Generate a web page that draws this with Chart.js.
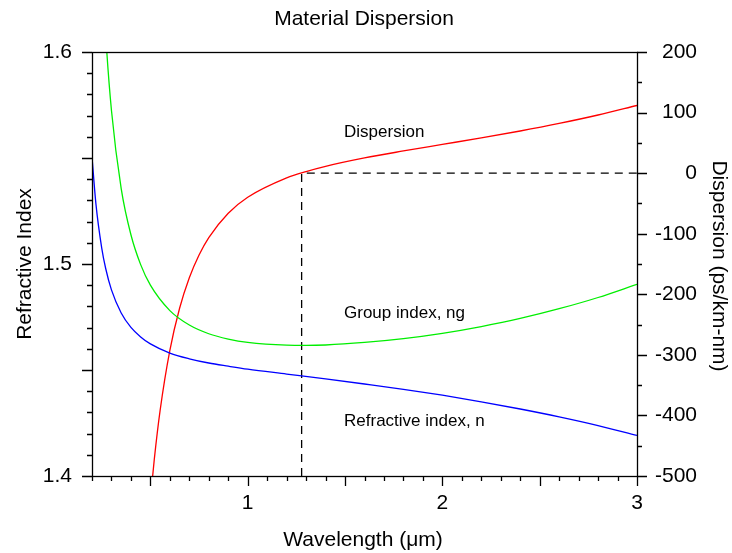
<!DOCTYPE html>
<html>
<head>
<meta charset="utf-8">
<script src="https://cdn.jsdelivr.net/npm/chart.js@4"></script>
<style>
html,body{margin:0;padding:0;background:#fff;}
#wrap{width:732px;height:553px;position:relative;}
</style>
</head>
<body>
<div id="wrap"><canvas id="c" width="732" height="553"></canvas></div>
<script>
// ---- data ----
const chartTitle = 'Material Dispersion';
const xTitle = 'Wavelength (\u03bcm)';
const yLeftTitle = 'Refractive Index';
const yRightTitle = 'Dispersion (ps/km-nm)';

const xTickLabels = ['1', '2', '3'];
const leftTickLabels = ['1.4', '1.5', '1.6'];
const rightTickLabels = ['-500', '-400', '-300', '-200', '-100', '0', '100', '200'];

// Refractive index, n
const nWavelength = [0.2, 0.22, 0.25, 0.27, 0.3, 0.35, 0.4, 0.45, 0.5, 0.6, 0.7, 0.8, 0.9, 1.0, 1.2, 1.4, 1.6, 1.8, 2.0, 2.2, 2.4, 2.6, 2.8, 3.0];
const nValues =     [1.5505, 1.5285, 1.5075, 1.4980, 1.4878, 1.4769, 1.4701, 1.4656, 1.4623, 1.4580, 1.4553, 1.4533, 1.4518, 1.4504, 1.4481, 1.4458, 1.4434, 1.4409, 1.4381, 1.4350, 1.4316, 1.4279, 1.4238, 1.4192];

// Group index, ng
const ngWavelength = [0.25, 0.27, 0.3, 0.35, 0.4, 0.45, 0.5, 0.6, 0.7, 0.8, 0.9, 1.0, 1.2, 1.3, 1.4, 1.6, 1.8, 2.0, 2.2, 2.4, 2.6, 2.8, 3.0];
const ngValues =     [1.6435, 1.6086, 1.5724, 1.5356, 1.5138, 1.4997, 1.4900, 1.4780, 1.4712, 1.4671, 1.4646, 1.4630, 1.4617, 1.4616, 1.4618, 1.4630, 1.4648, 1.4673, 1.4705, 1.4743, 1.4789, 1.4842, 1.4904];

// Dispersion (ps/km-nm)
const dWavelength = [0.5, 0.52, 0.55, 0.6, 0.65, 0.7, 0.75, 0.8, 0.9, 1.0, 1.2, 1.3, 1.4, 1.6, 1.8, 2.0, 2.2, 2.4, 2.6, 2.8, 3.0];
const dValues =     [-538.7, -472.5, -391.7, -292.6, -223.1, -172.7, -135.1, -106.4, -66.2, -39.9, -7.9, 2.65, 11.25, 25.1, 36.6, 47.4, 58.2, 69.6, 82.1, 96.0, 111.7];

// zero-dispersion marker
const zeroDispWavelength = 1.277;
const markerWavelength = [zeroDispWavelength, zeroDispWavelength, 3.0];
const markerDispersion = [-500, 0, 0];

// curve labels (wavelength, refractive-index axis value)
const curveLabels = ['Dispersion', 'Group index, ng', 'Refractive index, n'];
const curveLabelX = [1.5, 1.5, 1.5];
const curveLabelY = [1.5627, 1.4774, 1.4264];

// ---- chart ----
const FONT = "'Liberation Sans', Arial, Helvetica, sans-serif";
const toPts = (xs, ys) => xs.map((x, i) => ({x: x, y: ys[i]}));

const near = (v, t) => Math.abs(v - t) < 1e-6;

const decor = {
  id: 'decor',
  afterDraw(chart) {
    const ctx = chart.ctx;
    const a = chart.chartArea;
    const xs = chart.scales.x, yl = chart.scales.y, yr = chart.scales.y2;
    ctx.save();
    ctx.strokeStyle = '#000';
    ctx.lineWidth = 1.3;
    // frame
    ctx.strokeRect(Math.round(a.left) + 0.5, Math.round(a.top) + 0.5, Math.round(a.right - a.left), Math.round(a.bottom - a.top));
    ctx.beginPath();
    // x ticks
    xs.ticks.forEach(t => {
      const px = Math.round(xs.getPixelForValue(t.value)) + 0.5;
      const major = near(t.value * 2, Math.round(t.value * 2));
      ctx.moveTo(px, a.bottom); ctx.lineTo(px, a.bottom + (major ? 10 : 5));
    });
    // left ticks
    yl.ticks.forEach(t => {
      const py = Math.round(yl.getPixelForValue(t.value)) + 0.5;
      const major = near(t.value * 20, Math.round(t.value * 20));
      ctx.moveTo(a.left, py); ctx.lineTo(a.left - (major ? 10 : 5), py);
    });
    // right ticks
    yr.ticks.forEach(t => {
      const py = Math.round(yr.getPixelForValue(t.value)) + 0.5;
      const major = near(t.value / 100, Math.round(t.value / 100));
      ctx.moveTo(a.right, py); ctx.lineTo(a.right + (major ? 10 : 5), py);
    });
    ctx.stroke();

    ctx.fillStyle = '#000';
    // title
    ctx.font = '21px ' + FONT;
    ctx.textAlign = 'center';
    ctx.textBaseline = 'middle';
    ctx.fillText(chartTitle, (a.left + a.right) / 2 - 0.5, 19);
    // x title
    ctx.fillText(xTitle, (a.left + a.right) / 2 - 1.5, 540);
    // left title
    ctx.save();
    ctx.translate(25, (a.top + a.bottom) / 2);
    ctx.rotate(-Math.PI / 2);
    ctx.fillText(yLeftTitle, 0, 0);
    ctx.restore();
    // right title
    ctx.save();
    ctx.translate(719, (a.top + a.bottom) / 2 + 2);
    ctx.rotate(Math.PI / 2);
    ctx.fillText(yRightTitle, 0, 0);
    ctx.restore();
    // curve labels
    ctx.font = '17px ' + FONT;
    ctx.textAlign = 'left';
    curveLabels.forEach((s, i) => {
      ctx.fillText(s, xs.getPixelForValue(curveLabelX[i]) - 1, yl.getPixelForValue(curveLabelY[i]) + 1);
    });
    ctx.restore();
  }
};

const lineCommon = {pointRadius: 0, borderWidth: 1.3, fill: false, cubicInterpolationMode: 'monotone'};

new Chart(document.getElementById('c'), {
  type: 'line',
  data: {
    datasets: [
      Object.assign({label: 'Refractive index, n', data: toPts(nWavelength, nValues), borderColor: '#0000ff', yAxisID: 'y'}, lineCommon),
      Object.assign({label: 'Group index, ng', data: toPts(ngWavelength, ngValues), borderColor: '#00ee00', yAxisID: 'y'}, lineCommon),
      Object.assign({label: 'Dispersion', data: toPts(dWavelength, dValues), borderColor: '#ff0000', yAxisID: 'y2'}, lineCommon),
      {label: 'zero', data: toPts(markerWavelength, markerDispersion), borderColor: '#000', borderWidth: 1.3, borderDash: [8, 6], pointRadius: 0, tension: 0, fill: false, yAxisID: 'y2'}
    ]
  },
  options: {
    responsive: false,
    animation: false,
    devicePixelRatio: 1,
    layout: {padding: {top: 52, right: 35, left: 0, bottom: 0}},
    plugins: {legend: {display: false}, tooltip: {enabled: false}, title: {display: false}},
    scales: {
      x: {
        type: 'linear', position: 'bottom', min: 0.2, max: 3,
        afterFit: s => { s.height = 77; },
        grid: {display: true, drawOnChartArea: false, color: 'rgba(0,0,0,0)', tickLength: 10},
        border: {display: false},
        ticks: {
          stepSize: 0.1, autoSkip: false, maxRotation: 0, padding: 5, color: '#000',
          font: {family: FONT, size: 21},
          callback: v => { const s = String(Math.round(v * 10) / 10); return xTickLabels.includes(s) ? s : ''; }
        }
      },
      y: {
        type: 'linear', position: 'left', min: 1.4, max: 1.6,
        afterFit: s => { s.width = 92; },
        grid: {display: true, drawOnChartArea: false, color: 'rgba(0,0,0,0)', tickLength: 10},
        border: {display: false},
        ticks: {
          stepSize: 0.01, autoSkip: false, padding: 10, color: '#000',
          font: {family: FONT, size: 21},
          callback: v => { const s = (Math.round(v * 100) / 100).toFixed(1); return (leftTickLabels.includes(s) && near(v * 10, Math.round(v * 10))) ? s : ''; }
        }
      },
      y2: {
        type: 'linear', position: 'right', min: -500, max: 200,
        afterFit: s => { s.width = 60; },
        grid: {display: true, drawOnChartArea: false, color: 'rgba(0,0,0,0)', tickLength: 10},
        border: {display: false},
        ticks: {
          stepSize: 50, autoSkip: false, padding: 8, crossAlign: 'far', color: '#000',
          font: {family: FONT, size: 21},
          callback: v => { const s = String(Math.round(v)); return rightTickLabels.includes(s) ? s : ''; }
        }
      }
    }
  },
  plugins: [decor]
});
</script>
</body>
</html>
